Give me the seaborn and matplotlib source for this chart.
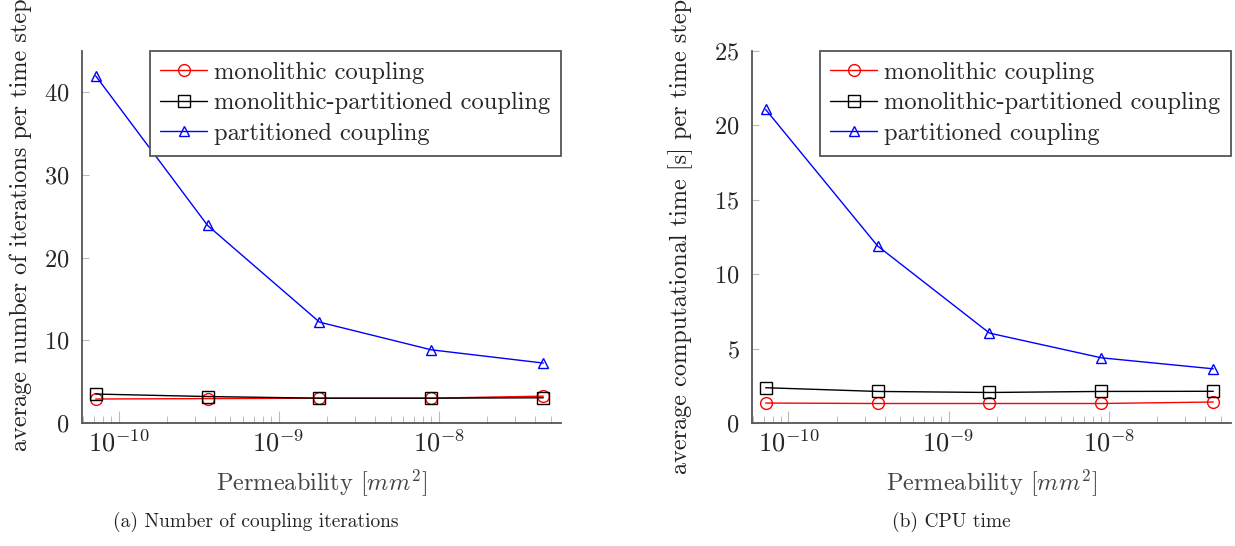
import numpy as np
import pandas as pd
import matplotlib
matplotlib.use('Agg')
import matplotlib.pyplot as plt
import seaborn as sns

# permeability values [mm^2]
permeability = [7.2e-11, 3.6e-10, 1.8e-9, 9.0e-9, 4.5e-8]

# (a) average coupling iterations per time step
iter_mono      = [2.9, 2.95, 3.0, 3.0, 3.25]
iter_mono_part = [3.5, 3.2, 3.0, 3.0, 3.05]
iter_part      = [42.0, 23.9, 12.2, 8.85, 7.25]

# (b) average computational time [s] per time step
cpu_mono      = [1.34, 1.31, 1.31, 1.31, 1.41]
cpu_mono_part = [2.37, 2.12, 2.05, 2.12, 2.13]
cpu_part      = [21.07, 11.9, 6.04, 4.38, 3.64]

labels = ['monolithic coupling', 'monolithic-partitioned coupling', 'partitioned coupling']
colors = ['#ff0000', '#000000', '#0000ff']
markers = ['o', 's', '^']
msizes = {'o': 8.5, 's': 8.0, '^': 7.5}

sns.set_theme(style='white')
plt.rcParams['font.family'] = ['cmr10', 'DejaVu Serif']
plt.rcParams['mathtext.fontset'] = 'cm'
plt.rcParams['axes.formatter.use_mathtext'] = True
plt.rcParams['axes.unicode_minus'] = True

fig = plt.figure(figsize=(12.35, 5.46), dpi=100)
ax1 = fig.add_axes([0.0664, 0.2253, 0.3879, 0.6813])
ax2 = fig.add_axes([0.6089, 0.2253, 0.3879, 0.6813])

panels = [
    (ax1, [iter_mono, iter_mono_part, iter_part], 'average number of iterations per time step', 45, [0, 10, 20, 30, 40]),
    (ax2, [cpu_mono, cpu_mono_part, cpu_part], 'average computational time [s] per time step', 25, [0, 5, 10, 15, 20, 25]),
]

for ax, series, ylab, ymax, yt in panels:
    for vals, lab, c, m in zip(series, labels, colors, markers):
        sns.lineplot(x=permeability, y=vals, ax=ax, color=c, marker=m, label=lab,
                     markersize=msizes[m], markerfacecolor='none', markeredgecolor=c,
                     markeredgewidth=1.0, linewidth=1.0)
    ax.set_xscale('log')
    ax.set_xlim(10 ** -10.228, 10 ** -7.236)
    ax.set_ylim(0, ymax)
    ax.set_yticks(yt)
    ax.set_xticks([1e-10, 1e-9, 1e-8])
    for s in ['top', 'right']:
        ax.spines[s].set_visible(False)
    for s in ['left', 'bottom']:
        ax.spines[s].set_color('#555555')
        ax.spines[s].set_linewidth(1.3)
    ax.tick_params(axis='x', which='major', direction='in', length=9, width=0.8,
                   color='#bbbbbb', labelsize=19, pad=5, bottom=True)
    ax.tick_params(axis='x', which='minor', direction='in', length=5, width=0.7,
                   color='#bbbbbb', bottom=True)
    ax.tick_params(axis='y', which='major', direction='in', length=5, width=0.8,
                   color='#bbbbbb', labelsize=17.5, pad=9, left=True)
    ax.set_xlabel('Permeability [$mm^2$]', fontsize=17.5, color='#444444', labelpad=8)
    ax.set_ylabel(ylab, fontsize=17.5, color='#222222')
    leg = ax.legend(loc='upper right', bbox_to_anchor=(1.0, 1.0), borderaxespad=0,
                    fontsize=17.6, frameon=True, fancybox=False, handlelength=1.9,
                    handletextpad=0.3, labelspacing=0.34, borderpad=0.44)
    leg.get_frame().set_edgecolor('#555555')
    leg.get_frame().set_linewidth(1.3)
    leg.get_frame().set_alpha(1)

ax1.yaxis.set_label_coords(-0.104, 0.532)
ax2.yaxis.set_label_coords(-0.123, 0.50)

fig.text(0.2073, 0.044, '(a) Number of coupling iterations', fontsize=14,
         ha='center', va='center', color='#222222')
fig.text(0.770, 0.044, '(b) CPU time', fontsize=14,
         ha='center', va='center', color='#222222')

plt.savefig('out.png', dpi=100)
plt.close()
